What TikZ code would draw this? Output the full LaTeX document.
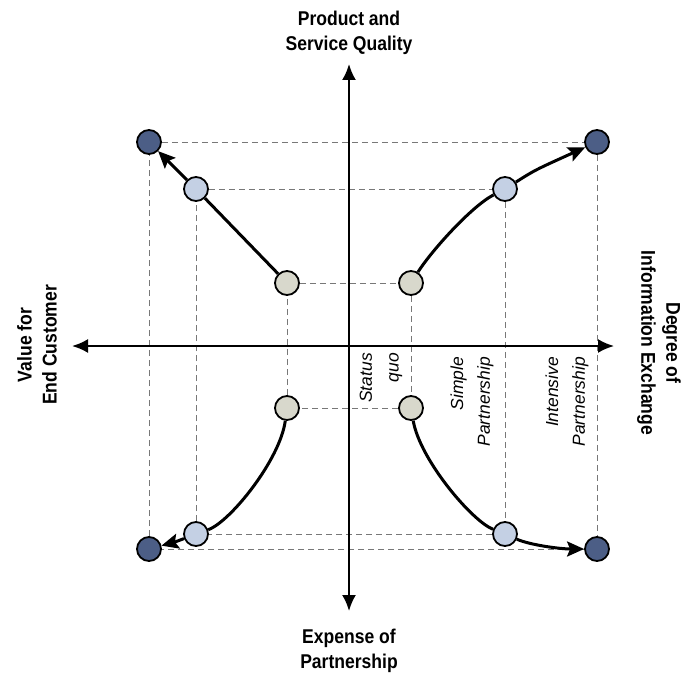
\documentclass[tikz,border=0pt]{standalone}
\usepackage{fontspec}
\setmainfont{Liberation Sans}
\newfontfamily\axisfont[FakeStretch=0.88]{Liberation Sans}
\usetikzlibrary{arrows.meta}

\definecolor{darkdot}{RGB}{76,94,134}
\definecolor{lightdot}{RGB}{196,208,228}
\definecolor{greydot}{RGB}{216,216,204}
\definecolor{guidegrey}{RGB}{120,120,120}

\begin{document}
\begin{tikzpicture}[x=1bp,y=-1bp,
  dotbase/.style={circle,draw=black,line width=1.8bp,minimum size=24bp,inner sep=0pt},
  outerdot/.style={dotbase,fill=darkdot},
  middot/.style={dotbase,fill=lightdot},
  innerdot/.style={dotbase,fill=greydot},
  guide/.style={draw=guidegrey,line width=0.9bp,dash pattern=on 6bp off 4bp},
  axisline/.style={line width=2.2bp,{Latex[length=16bp,width=14bp]}-{Latex[length=16bp,width=14bp]}},
  link/.style={line width=3bp},
  linkarrow/.style={link,-{Stealth[length=17bp,width=15bp,inset=3bp]}},
  axislabel/.style={inner sep=0pt,align=center,font=\axisfont\bfseries\fontsize{20}{25}\selectfont},
  stagelabel/.style={inner sep=0pt,align=right,anchor=east,rotate=90,font=\itshape\fontsize{17.5}{27}\selectfont}
]
\useasboundingbox (0,0) rectangle (683,681);

% dots: outer (dark), middle (light), inner (grey)
\node[outerdot] (d1) at (149,142) {};
\node[outerdot] (d2) at (597,142) {};
\node[outerdot] (d3) at (149,549) {};
\node[outerdot] (d4) at (597,549) {};
\node[middot] (l1) at (196,189) {};
\node[middot] (l2) at (505,189) {};
\node[middot] (l3) at (196,534) {};
\node[middot] (l4) at (505,534) {};
\node[innerdot] (g1) at (287,283) {};
\node[innerdot] (g2) at (411,283) {};
\node[innerdot] (g3) at (287,408) {};
\node[innerdot] (g4) at (411,408) {};

% dashed guide squares
\draw[guide] (d1) -- (d2);
\draw[guide] (d2) -- (d4);
\draw[guide] (d4) -- (d3);
\draw[guide] (d3) -- (d1);
\draw[guide] (l1) -- (l2);
\draw[guide] (l2) -- (l4);
\draw[guide] (l4) -- (l3);
\draw[guide] (l3) -- (l1);
\draw[guide] (g1) -- (g2);
\draw[guide] (g2) -- (g4);
\draw[guide] (g4) -- (g3);
\draw[guide] (g3) -- (g1);

% axes
\coordinate (ytop) at (349,64);
\coordinate (ybot) at (349,611);
\coordinate (xlft) at (72,346);
\coordinate (xrgt) at (614,346);
\draw[axisline] (ybot) -- (ytop);
\draw[axisline] (xlft) -- (xrgt);

% development paths
\draw[link] (g1) -- (l1);
\draw[linkarrow] (l1) -- (d1);
\draw[link] (g2) .. controls (432,250) and (472,206) .. (l2);
\draw[linkarrow] (l2) .. controls (535,170) .. (d2);
\draw[link] (g3) .. controls (280,460) and (230,522) .. (l3);
\draw[linkarrow] (l3) .. controls (175,542) .. (d3);
\draw[link] (g4) .. controls (420,460) and (472,521) .. (l4);
\draw[linkarrow] (l4) .. controls (530,545) and (560,549) .. (d4);

% axis titles
\node[axislabel] (tquality) at (349,33) {Product and\\Service Quality};
\node[axislabel] (texpense) at (349,651) {Expense of\\Partnership};
\node[axislabel,rotate=90] (tvalue) at (37,345) {Value for\\End Customer};
\node[axislabel,rotate=-90] (tinfo) at (659,343) {Degree of\\Information Exchange};

% stage labels
\node[stagelabel] (sstatus) at (381,353) {Status\\quo};
\node[stagelabel] (ssimple) at (472,357) {Simple\\Partnership};
\node[stagelabel] (sintens) at (567,357) {Intensive\\Partnership};
\end{tikzpicture}
\end{document}
